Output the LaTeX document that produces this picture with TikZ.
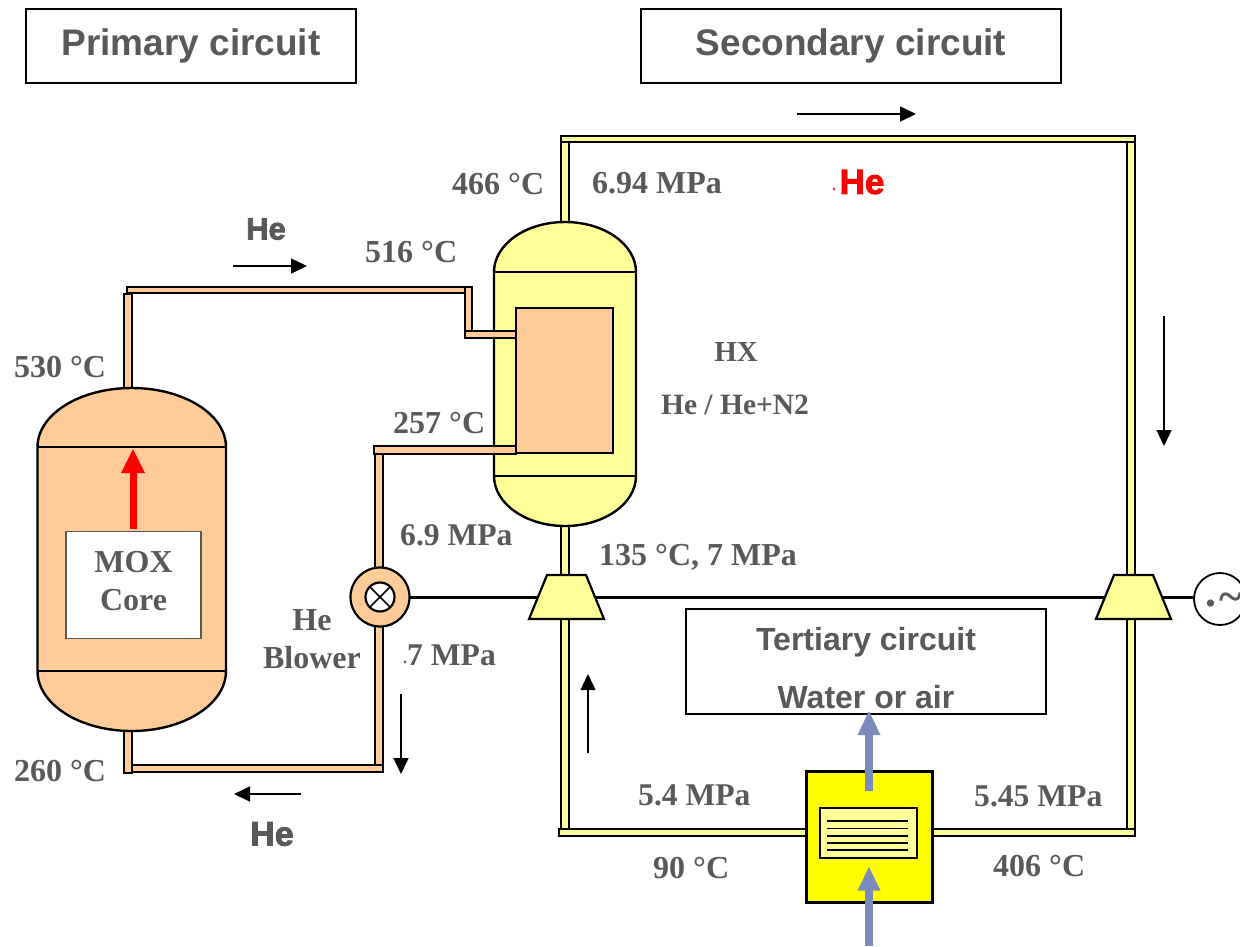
\documentclass[tikz,border=0pt]{standalone}
\usepackage{fontspec}
\setmainfont{Liberation Serif}
\newfontfamily\arialf{Liberation Sans}
\newfontfamily\heavyf[FakeBold=2.5]{Liberation Sans Bold}
\usetikzlibrary{arrows.meta}
\definecolor{txt}{HTML}{595959}
\definecolor{peach}{HTML}{FFCC99}
\definecolor{lemon}{HTML}{FFFF99}
\definecolor{brightyellow}{HTML}{FFFF00}
\definecolor{steel}{HTML}{7B8BBB}
\newcommand{\pipe}[5]{\draw[pipeline,fill=#5] (#1,#2) rectangle (#3,#4);}
\newcommand{\vessel}[7]{% left right top linetop linebot bottom fill
  \draw[vesselline,fill=#7] (#1,#4) arc[start angle=180,end angle=360,x radius={(#2-#1)/2},y radius={#4-#3}]
    -- (#2,#5) arc[start angle=0,end angle=180,x radius={(#2-#1)/2},y radius={#6-#5}] -- cycle;
  \draw[vesselline] (#1,#4) -- (#2,#4) (#1,#5) -- (#2,#5);}
\tikzset{
  x=1pt,y=-1pt,
  pipeline/.style={draw=black,line width=2pt},
  vesselline/.style={draw=black,line width=2.4pt},
  lbl/.style={text=txt,font=\fontsize{32}{34}\selectfont\bfseries,inner sep=0pt,anchor=west},
  mpa/.style={lbl,font=\fontsize{31.6}{34}\selectfont\bfseries},
  title/.style={text=txt,font=\arialf\fontsize{37}{40}\selectfont\bfseries,inner sep=0pt},
  sub/.style={text=txt,font=\arialf\fontsize{32}{40}\selectfont\bfseries,inner sep=0pt},
  hefont/.style={inner sep=0pt,font=\heavyf\fontsize{31}{34}\selectfont},
  box/.style={draw=black,line width=1.5pt,fill=white},
  flow/.style={-{Triangle[length=16pt,width=15pt]},line width=1.5pt,black},
  turb/.style={draw=black,line width=2.2pt,fill=lemon},
}
\begin{document}
\begin{tikzpicture}
\useasboundingbox (0,0) rectangle (1240,946);
\clip (0,0) rectangle (1240,946);
% titles
\node[box,title,minimum width=330pt,minimum height=74pt] (primary) at (191,46) {\raisebox{4pt}{Primary circuit}};
\node[box,title,minimum width=420pt,minimum height=74pt] (secondary) at (851,46) {\raisebox{4pt}{Secondary circuit}};
% shaft
\coordinate (sh1) at (410,597);
\coordinate (sh2) at (1195,597);
\draw[line width=3pt] (sh1) -- (sh2);
% primary piping
\pipe{123.5}{294}{131.5}{388}{peach}
\pipe{127}{286.5}{465}{293}{peach}
\pipe{464.5}{287}{472}{338}{peach}
\pipe{464.5}{331}{517}{338}{peach}
\pipe{373.5}{445.5}{517}{454}{peach}
\pipe{374.5}{447}{382.5}{570}{peach}
\pipe{374.5}{625}{382.5}{772}{peach}
\pipe{127}{764.5}{382.5}{772}{peach}
\pipe{123.5}{730}{131.5}{772.5}{peach}
% secondary piping
\pipe{561}{135.5}{1135}{142}{lemon}
\pipe{561}{142}{569}{223}{lemon}
\pipe{1127}{142}{1135}{576}{lemon}
\pipe{561}{525}{569}{576}{lemon}
\pipe{561}{618}{569}{836}{lemon}
\pipe{1127}{618}{1135}{836}{lemon}
\pipe{559}{828.5}{806}{836}{lemon}
\pipe{932}{828.5}{1135}{836}{lemon}
% vessels
\vessel{37.5}{226}{388}{447}{671}{731}{peach}
\vessel{494}{636}{222}{272}{476}{526}{lemon}
\draw[vesselline,fill=peach] (516,308) rectangle (613,453);
\pipe{373.5}{445.5}{516}{454}{peach}
\pipe{464.5}{331}{516}{338}{peach}
% core
\node[draw=txt,line width=1.2pt,fill=white,minimum width=135pt,minimum height=107pt,inner sep=0pt] (core) at (133.5,585) {};
\node[text=txt,inner sep=0pt,font=\fontsize{32}{38}\selectfont\bfseries,align=center] (coret) at (133.5,581) {MOX\\Core};
\draw[red,line width=7pt] (133,529) -- (133,471);
\fill[red] (133,449) -- (145,473) -- (121,473) -- cycle;
% blower
\draw[line width=2.2pt,fill=peach] (380,597) circle (29.5);
\draw[line width=2.2pt,fill=white] (380,597) circle (14.5);
\draw[line width=1.5pt] (370,587) -- (390,607) (370,607) -- (390,587);
% turbines
\draw[turb] (547,575) -- (586,575) -- (604,619) -- (529,619) -- cycle;
\draw[turb] (1114,575) -- (1153,575) -- (1171,619) -- (1096,619) -- cycle;
% generator
\node[draw=black,line width=1.8pt,circle,minimum size=52pt,inner sep=0pt,fill=white] (gen) at (1220,599) {};
\node[text=txt,inner sep=0pt,anchor=west,font=\fontsize{44}{46}\selectfont\bfseries] (gent) at (1205,602) {.\hspace{3pt}\raisebox{-5pt}{\textasciitilde}};
% tertiary
\node[box,minimum width=360pt,minimum height=105pt,inner sep=0pt] (tert) at (866,661.5) {};
\node[sub] (t1) at (866,642) {Tertiary circuit};
\node[sub] (t2) at (866,697) {Water or air};
% cooler
\draw[line width=3pt,fill=brightyellow] (806,771) rectangle (932,902);
\draw[line width=2pt,fill=lemon] (820,807.5) rectangle (916.5,858);
\foreach \yy in {821,828.5,836,843,850} \draw[line width=1.5pt] (827,\yy) -- (908,\yy);
\draw[steel,line width=8pt] (869,946) -- (869,889);
\fill[steel] (869,867) -- (880.5,890.5) -- (857.5,890.5) -- cycle;
\draw[steel,line width=8pt] (869,791) -- (869,733);
\fill[steel] (869,711) -- (880.5,735) -- (857.5,735) -- cycle;
% flow arrows
\coordinate (a1) at (233,266); \coordinate (a1e) at (307,266);
\coordinate (a2) at (797,114); \coordinate (a2e) at (916,114);
\coordinate (a3) at (1164,316); \coordinate (a3e) at (1164,446);
\coordinate (a4) at (588,753); \coordinate (a4e) at (588,674);
\coordinate (a5) at (401,694); \coordinate (a5e) at (401,774);
\coordinate (a6) at (301,794); \coordinate (a6e) at (234,794);
\foreach \s/\e in {a1/a1e,a2/a2e,a3/a3e,a4/a4e,a5/a5e,a6/a6e} \draw[flow] (\s) -- (\e);
% labels
\node[lbl] (l1) at (14,367) {530 °C};
\node[lbl] (l2) at (14,771) {260 °C};
\node[lbl] (l3) at (365,252) {516 °C};
\node[lbl] (l4) at (393,423) {257 °C};
\node[lbl] (l5) at (452,184) {466 °C};
\node[lbl] (l6) at (592,183) {6.94 MPa};
\node[mpa] (l7) at (400,535) {6.9 MPa};
\node[lbl] (l8) at (599,557) {135 °C, 7 MPa};
\node[mpa] (l9) at (403,655) {\fontsize{16}{16}\selectfont\raisebox{2pt}{.}\fontsize{31.6}{34}\selectfont 7 MPa};
\node[mpa] (l10) at (638,795) {5.4 MPa};
\node[mpa] (l11) at (974,796) {5.45 MPa};
\node[lbl] (l12) at (653,868) {90 °C};
\node[lbl] (l13) at (993,866) {406 °C};
\node[lbl,anchor=center,align=center,font=\fontsize{32}{38}\selectfont\bfseries] (bl) at (312,639) {He\\Blower};
\node[lbl,font=\fontsize{29}{30}\selectfont\bfseries,anchor=center] (hx) at (736,352) {HX};
\node[lbl,font=\fontsize{29.5}{30}\selectfont\bfseries,anchor=center] (hx2) at (735,405) {He / He+N2};
\node[hefont,text=txt] (he1) at (266,229) {He};
\node[hefont,text=txt,font=\heavyf\fontsize{34}{34}\selectfont] (he2) at (272,834) {He};
\node[hefont,text=red,font=\heavyf\fontsize{35}{34}\selectfont] (he3) at (862,182) {He};
\fill[red] (834,189) circle (1.3);
\end{tikzpicture}
\end{document}
